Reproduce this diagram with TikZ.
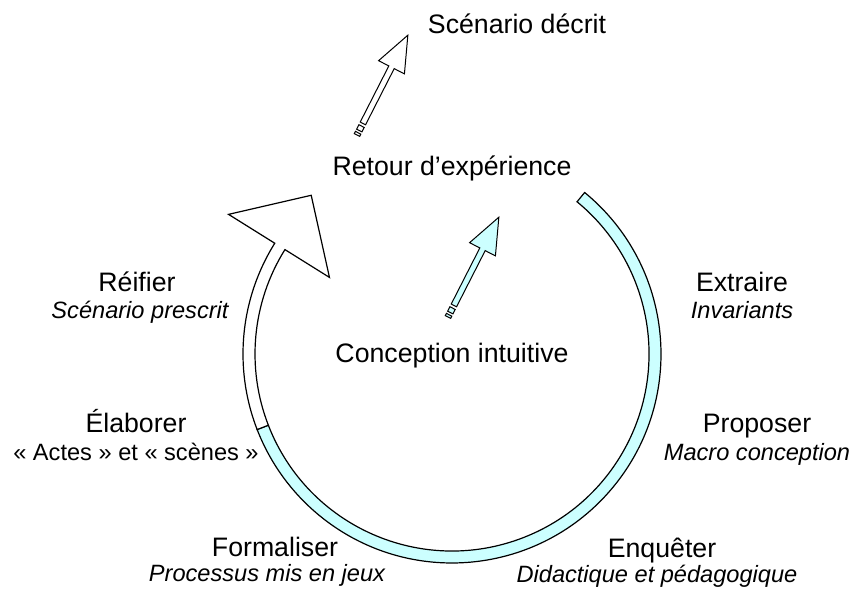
\documentclass[tikz,border=0pt]{standalone}
\usepackage{fontspec}
\setmainfont{Liberation Sans}
\definecolor{paleCyan}{HTML}{CCFFFF}
% Striped block arrow: #1 fill colour, #2 tail coordinate, #3 direction angle
\newcommand{\stripedArrow}[3]{%
  \begin{scope}[shift={(#2)}, rotate=#3]
    \draw[outline, fill=#1] (0,-3) rectangle (2.5,3);
    \draw[outline, fill=#1] (5,-3) rectangle (10,3);
    \draw[outline, fill=#1] (13,-3) -- (76,-3) -- (76,-14.5) -- (112,0)
      -- (76,14.5) -- (76,3) -- (13,3) -- cycle;
  \end{scope}}
\begin{document}
\begin{tikzpicture}[x=1pt, y=1pt,
  lbl/.style={font=\fontsize{26.7}{32}\selectfont, anchor=base, inner sep=0pt},
  sub/.style={font=\fontsize{23.6}{28}\selectfont\itshape, anchor=base, inner sep=0pt},
  outline/.style={draw=black, line width=1pt, line join=miter},
  band/.style={draw=black, line width=1.2pt, line join=miter}]
\useasboundingbox (0,0) rectangle (856,604);

% centre of the cycle
\coordinate (C) at (452,250);

% cycle: cyan band, then white band ending in the large arrowhead
\begin{scope}[shift={(C)}]
  \draw[band, fill=paleCyan] (50.6:209) arc[start angle=50.6, end angle=-158.8, radius=209]
    -- (-158.8:197) arc[start angle=-158.8, end angle=50.6, radius=197] -- cycle;
  \draw[band, fill=white] (-158.8:209) arc[start angle=-158.8, end angle=-212, radius=209]
    -- (148:263.5) -- (-140.8,158.7) -- (148:144.5) -- (148:197)
    arc[start angle=-212, end angle=-158.8, radius=197] -- cycle;
\end{scope}

% labels
\node[lbl] (decrit) at (517,570) {Scénario décrit};
\node[lbl] (retour) at (452,428) {Retour d’expérience};
\node[lbl] (intuitive) at (452,241) {Conception intuitive};

\node[lbl] (reifier) at (137,312) {Réifier};
\node[sub] (prescrit) at (140,285) {Scénario prescrit};

\node[lbl] (extraire) at (742,312) {Extraire};
\node[sub] (invariants) at (742,285) {Invariants};

\node[lbl] (elaborer) at (136,171) {Élaborer};
\node[lbl, font=\fontsize{23.6}{28}\selectfont] (actes) at (136,143) {«~Actes~» et «~scènes~»};

\node[lbl] (proposer) at (757,171) {Proposer};
\node[sub] (macro) at (757,143) {Macro conception};

\node[lbl] (formaliser) at (275,47) {Formaliser};
\node[sub] (processus) at (267,22) {Processus mis en jeux};

\node[lbl] (enqueter) at (662,46) {Enquêter};
\node[sub] (didactique) at (657,21) {Didactique et pédagogique};

% block arrows
\coordinate (tailTop) at (357,469);
\coordinate (tailMid) at (448,287);
\stripedArrow{white}{tailTop}{63}
\stripedArrow{paleCyan}{tailMid}{63}
\end{tikzpicture}
\end{document}
